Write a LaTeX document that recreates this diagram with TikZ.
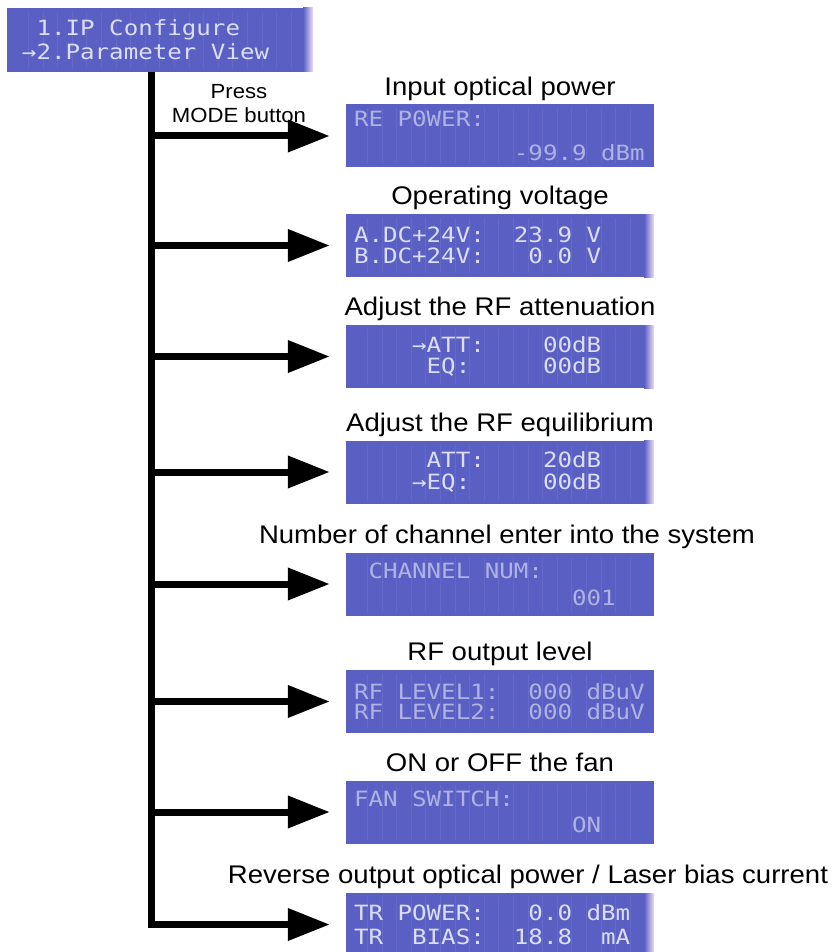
\documentclass[tikz,border=0pt]{standalone}
\usepackage{fontspec}
\setmainfont{Liberation Sans}
\newfontfamily\capfont[FakeStretch=1.08]{Liberation Sans}
\newfontfamily\lcdfont[FakeStretch=1.15]{DejaVu Sans Mono}
\usetikzlibrary{arrows.meta}
\usetikzlibrary{positioning}

\definecolor{lcdblue}{RGB}{90,95,195}
\definecolor{lcdline}{RGB}{100,105,202}
\definecolor{lcdglow}{RGB}{236,222,246}
\definecolor{lcdtext}{RGB}{220,222,245}
\definecolor{lcddim}{RGB}{175,179,228}

% n blank cells of the display
\newcommand{\bl}[1]{\leavevmode\hbox to #1\fontcharwd\font`0{}}
\newcommand{\lcdcells}{\foreach \c in {1,...,19}
  \draw[lcdline, line width=0.8pt] ([xshift=8pt+\c*14.6pt-1.2pt, yshift=4pt]path picture bounding box.south west)
    -- ([xshift=8pt+\c*14.6pt-1.2pt, yshift=-4pt]path picture bounding box.north west);}
\newcommand{\rightglow}{\fill[left color=lcdblue, right color=lcdglow]
  ([xshift=-10pt]path picture bounding box.south east) rectangle (path picture bounding box.north east);}

\tikzset{
  lcd/.style={fill=lcdblue, minimum width=308pt, minimum height=63pt, inner xsep=8pt, inner ysep=0pt,
    text width=292pt, align=left, text=lcdtext,
    font=\lcdfont\fontsize{21pt}{#1}\selectfont, path picture={\lcdcells}},
  glow/.style={path picture={\lcdcells\rightglow}},
  dim/.style={text=lcddim},
  caption/.style={font=\capfont\fontsize{25.5pt}{30pt}\selectfont, inner sep=0pt, text depth=0pt},
  branch/.style={line width=7pt, -{Triangle[length=42pt,width=31pt]}, shorten >=16pt},
}

\begin{document}
\begin{tikzpicture}[x=1pt, y=-1pt]
    \useasboundingbox (0,0) rectangle (838,952);

    % menu display
    \node[lcd=24pt, glow, inner xsep=15pt, text width=276pt, minimum width=306pt, minimum height=64pt] (menu) at (160,40)
        {\bl{1}1.IP\bl{1}Configure\\→2.Parameter\bl{1}View};
    \coordinate (stem) at ([xshift=-9pt]menu.south);
    \node[font=\capfont\fontsize{20.5pt}{24pt}\selectfont, align=center, inner sep=0pt] (press) at (239,104)
        {Press\\MODE button};

    % parameter displays
    \node[lcd=33.5pt, dim] (b1) at (500,136) {RE\bl{1}P0WER:\\\mbox{\bl{11}-99.9\bl{1}dBm}};
    \node[lcd=20.5pt, glow] (b2) at (500,245.5) {A.DC+24V:\bl{2}23.9\bl{1}V\\B.DC+24V:\bl{3}0.0\bl{1}V};
    \node[lcd=21.5pt, glow] (b3) at (500,356.5) {\bl{4}→ATT:\bl{4}00dB\\\bl{5}EQ:\bl{5}00dB};
    \node[lcd=22pt, glow] (b4) at (500,472) {\bl{5}ATT:\bl{4}20dB\\\bl{4}→EQ:\bl{5}00dB};
    \node[lcd=27pt, dim] (b5) at (500,584) {\bl{1}CHANNEL\bl{1}NUM:\\\bl{15}001};
    \node[lcd=20pt, dim] (b6) at (500,701.5) {RF\bl{1}LEVEL1:\bl{2}000\bl{1}dBuV\\RF\bl{1}LEVEL2:\bl{2}000\bl{1}dBuV};
    \node[lcd=26pt, dim] (b7) at (500,812) {FAN\bl{1}SWITCH:\\\bl{15}ON};
    \node[lcd=24pt, glow] (b8) at (500,924.5) {TR\bl{1}POWER:\bl{3}0.0\bl{1}dBm\\TR\bl{2}BIAS:\bl{2}18.8\bl{2}mA};

    % captions
    \node[caption, above=9pt of b1] (c1) {Input optical power};
    \node[caption, above=9pt of b2] (c2) {Operating voltage};
    \node[caption, above=9pt of b3] (c3) {Adjust the RF attenuation};
    \node[caption, above=9pt of b4] (c4) {Adjust the RF equilibrium};
    \node[caption, above=9pt of b5, xshift=7pt] (c5) {Number of channel enter into the system};
    \node[caption, above=9pt of b6] (c6) {RF output level};
    \node[caption, above=9pt of b7] (c7) {ON or OFF the fan};
    \node[caption, above=9pt of b8, xshift=28pt] (c8) {Reverse output optical power / Laser bias current};

    % MODE button steps
    \draw[branch] (stem) |- (b8.west);
    \foreach \n in {1,...,7}
        \draw[branch] (stem |- b\n.west) -- (b\n.west);
\end{tikzpicture}
\end{document}
